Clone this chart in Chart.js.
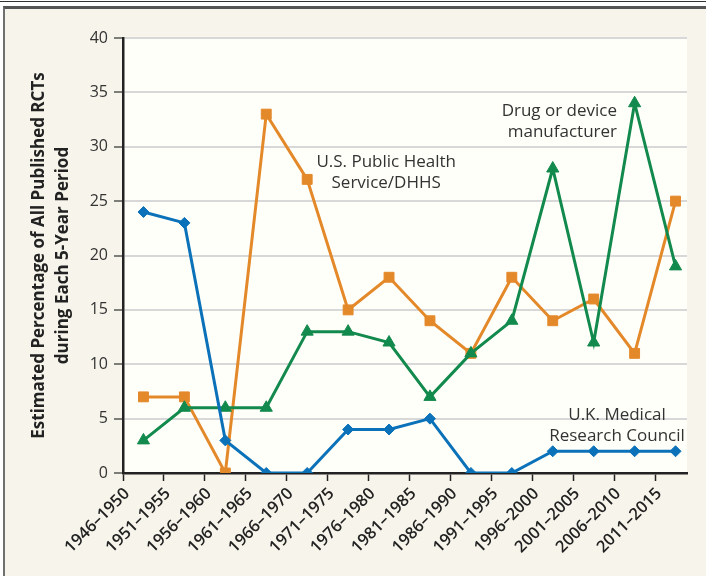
<!DOCTYPE html>
<html>
<head>
<meta charset="utf-8">
<script src="https://cdn.jsdelivr.net/npm/chart.js@4/dist/chart.umd.min.js"></script>
<style>
  html, body { margin: 0; padding: 0; background: #ffffff; width: 706px; height: 576px; overflow: hidden; }
  #topline { position: absolute; left: 0; top: 1px; width: 706px; height: 1px; background: #333; }
  #frame { position: absolute; left: 3px; top: 6px; width: 710px; height: 600px;
           border-left: 2px solid #707070; border-top: 3px solid #555; background: #f7f5eb; }
  #wrap { position: absolute; left: 0; top: 0; width: 706px; height: 576px; }
</style>
</head>
<body>
<div id="topline"></div>
<div id="frame"></div>
<div id="wrap"><canvas id="c" width="706" height="576"></canvas></div>
<script>
// ---- data ----
const periods = ["1946\u20131950","1951\u20131955","1956\u20131960","1961\u20131965","1966\u20131970",
  "1971\u20131975","1976\u20131980","1981\u20131985","1986\u20131990","1991\u20131995",
  "1996\u20132000","2001\u20132005","2006\u20132010","2011\u20132015"];
const ukMRC   = [24, 23, 3, 0, 0, 4, 4, 5, 0, 0, 2, 2, 2, 2];
const drugMfr = [3, 6, 6, 6, 13, 13, 12, 7, 11, 14, 28, 12, 34, 19];
const usPHS   = [7, 7, 0, 33, 27, 15, 18, 14, 11, 18, 14, 16, 11, 25];
const yTicks  = [0, 5, 10, 15, 20, 25, 30, 35, 40];
const yTitle  = ["Estimated Percentage of All Published RCTs", "during Each 5-Year Period"];
const notes = [
  { lines: ["U.S. Public Health", "Service/DHHS"], x: 6.43, y: 28.1, align: "center" },
  { lines: ["Drug or device", "manufacturer"], x: 12.07, y: 32.8, align: "right" },
  { lines: ["U.K. Medical", "Research Council"], x: 12.07, y: 4.85, align: "center" }
];

const FONT = "'Open Sans', 'DejaVu Sans', sans-serif";
const toPts = arr => arr.map((v, i) => ({ x: i + 0.5, y: v }));

const plotBg = {
  id: 'plotBg',
  beforeDraw(chart) {
    const { ctx, chartArea: a } = chart;
    ctx.save();
    ctx.fillStyle = '#fffffa';
    ctx.fillRect(a.left, a.top, a.right - a.left, a.bottom - a.top);
    ctx.restore();
  }
};
const notesPlugin = {
  id: 'notes',
  afterDatasetsDraw(chart) {
    const { ctx, scales: { x, y } } = chart;
    ctx.save();
    ctx.font = "17px " + FONT;
    ctx.fillStyle = '#333';
    ctx.textBaseline = 'alphabetic';
    notes.forEach(n => {
      ctx.textAlign = n.align;
      const px = x.getPixelForValue(n.x);
      const py = y.getPixelForValue(n.y);
      n.lines.forEach((t, k) => ctx.fillText(t, px, py + k * 21));
    });
    ctx.restore();
  }
};

const ds = (label, data, color, style, r) => ({
  label, data: toPts(data), borderColor: color, backgroundColor: color,
  borderWidth: 3, pointStyle: style, pointRadius: r, pointHoverRadius: r,
  pointBorderWidth: 1, tension: 0
});

new Chart(document.getElementById('c'), {
  type: 'line',
  data: {
    datasets: [
      ds('U.K. Medical Research Council', ukMRC, '#0b72b9', 'rectRot', 5.5),
      ds('Drug or device manufacturer', drugMfr, '#138a4d', 'triangle', 7),
      ds('U.S. Public Health Service/DHHS', usPHS, '#e4892a', 'rect', 7)
    ]
  },
  options: {
    responsive: false,
    animation: false,
    events: [],
    layout: { padding: { left: 0, top: 38, right: 19, bottom: 0 } },
    plugins: { legend: { display: false }, tooltip: { enabled: false } },
    scales: {
      x: {
        type: 'linear', min: 0, max: 13.78,
        afterFit(s) { s.height = 103; },
        border: { color: '#222', width: 2.5 },
        grid: { drawOnChartArea: false, tickLength: 8, tickColor: '#222', tickWidth: 1.5 },
        ticks: {
          stepSize: 1, includeBounds: false, autoSkip: false,
          minRotation: 45, maxRotation: 45, padding: 3, labelOffset: 4,
          color: '#222', font: { family: FONT, size: 16.5, weight: '600' },
          callback: v => (Number.isInteger(v) && v < periods.length) ? periods[v] : ''
        }
      },
      y: {
        min: 0, max: 40,
        afterFit(s) { s.width = 123; },
        afterBuildTicks(s) { s.ticks = yTicks.map(v => ({ value: v })); },
        border: { color: '#222', width: 2.5 },
        grid: { color: '#d8d8d8', lineWidth: 2, tickLength: 9, tickColor: '#555', tickWidth: 1.5 },
        ticks: { padding: 6, color: '#333', font: { family: FONT, size: 16 } },
        title: {
          display: true, text: yTitle, color: '#222',
          font: { family: FONT, size: 17, weight: 'bold', lineHeight: 1.4 },
          padding: { top: 27, bottom: 0 }
        }
      }
    }
  },
  plugins: [plotBg, notesPlugin]
});
</script>
</body>
</html>
